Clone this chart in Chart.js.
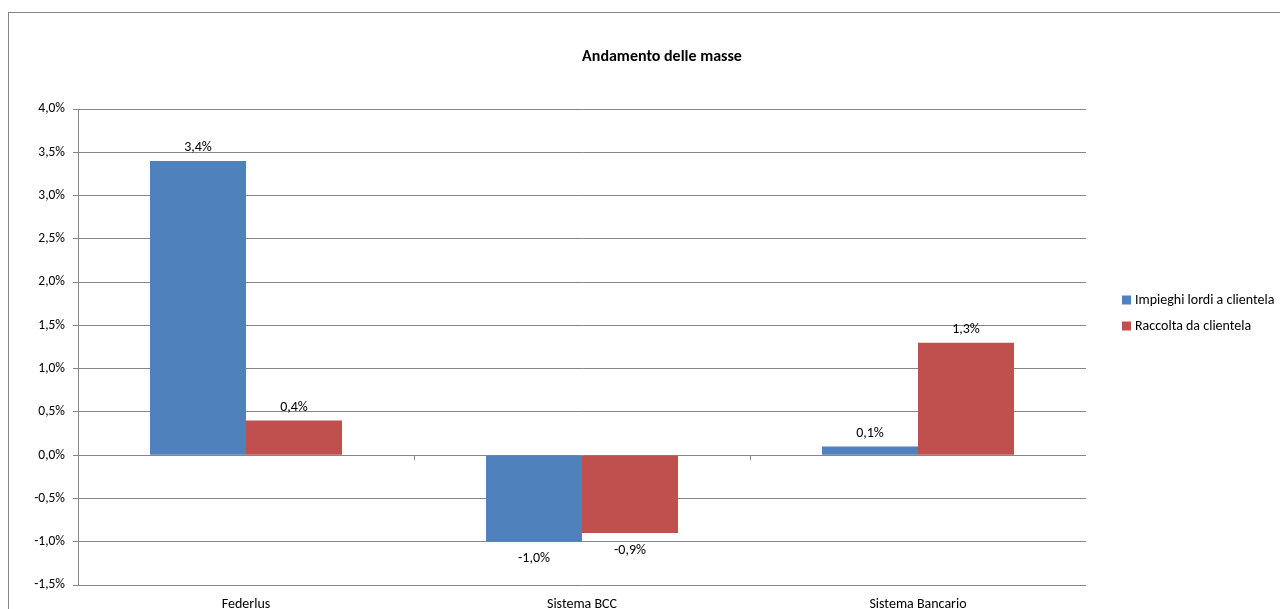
<!DOCTYPE html>
<html>
<head>
<meta charset="utf-8">
<title>Andamento delle masse</title>
<script src="https://cdn.jsdelivr.net/npm/chart.js@4"></script>
<style>
  html, body { margin: 0; padding: 0; background: #fff; overflow: hidden; width: 1280px; height: 609px; }
  #frame { position: absolute; left: 8px; top: 12px; width: 1400px; height: 700px; border: 1px solid #868686; box-sizing: border-box; }
  #wrap { position: absolute; left: 0; top: 0; width: 1324px; height: 630px; }
</style>
</head>
<body>
<div id="frame"></div>
<div id="wrap"><canvas id="masse"></canvas></div>
<script>
// categorie e serie (variazioni percentuali)
var categorie = ['Federlus', 'Sistema BCC', 'Sistema Bancario'];
var impieghi = [3.4, -1.0, 0.1];
var raccolta = [0.4, -0.9, 1.3];
var nomiSerie = ['Impieghi lordi a clientela', 'Raccolta da clientela'];
var coloriSerie = ['#4F81BD', '#C0504D'];
var titolo = 'Andamento delle masse';

var FONT = "Carlito, Calibri, Lato, sans-serif";
Chart.defaults.font.family = FONT;
Chart.defaults.color = '#000';

function perc(v) {
  return v.toFixed(1).replace('.', ',') + '%';
}

// etichette dei valori sopra / sotto le barre
var etichette = {
  id: 'etichette',
  afterDatasetsDraw: function(chart) {
    var ctx = chart.ctx;
    ctx.save();
    ctx.font = '14px ' + FONT;
    ctx.fillStyle = '#000';
    ctx.textAlign = 'center';
    ctx.textBaseline = 'middle';
    chart.data.datasets.forEach(function(ds, i) {
      chart.getDatasetMeta(i).data.forEach(function(bar, j) {
        var v = ds.data[j];
        var y = v >= 0 ? bar.y - 13 : bar.y + 17;
        ctx.fillText(perc(v), bar.x, y);
      });
    });
    ctx.restore();
  }
};

// titolo, legenda a destra e tacche dell'asse categorie sulla linea dello zero
var extra = {
  id: 'extra',
  afterDraw: function(chart) {
    var ctx = chart.ctx;
    var area = chart.chartArea;
    var y0 = chart.scales.y.getPixelForValue(0);
    var n = categorie.length;
    var w = (area.right - area.left) / n;
    ctx.save();
    ctx.strokeStyle = '#868686';
    ctx.lineWidth = 1;
    for (var k = 1; k < n; k++) {
      var x = Math.round(area.left + w * k) + 0.5;
      ctx.beginPath();
      ctx.moveTo(x, y0);
      ctx.lineTo(x, y0 + 5);
      ctx.stroke();
    }

    ctx.fillStyle = '#000';
    ctx.font = 'bold 16px ' + FONT;
    ctx.textAlign = 'center';
    ctx.textBaseline = 'middle';
    ctx.fillText(titolo, 662, 57);

    ctx.font = '14px ' + FONT;
    ctx.textAlign = 'left';
    var ys = [300, 326];
    for (var s = 0; s < nomiSerie.length; s++) {
      ctx.fillStyle = coloriSerie[s];
      ctx.fillRect(1122, ys[s] - 4.5, 9, 9);
      ctx.fillStyle = '#000';
      ctx.fillText(nomiSerie[s], 1135, ys[s]);
    }
    ctx.restore();
  }
};

var ctx = document.getElementById('masse');
var chart = new Chart(ctx, {
  type: 'bar',
  data: {
    labels: categorie,
    datasets: [{
      label: nomiSerie[0],
      backgroundColor: coloriSerie[0],
      data: impieghi
    }, {
      label: nomiSerie[1],
      backgroundColor: coloriSerie[1],
      data: raccolta
    }]
  },
  options: {
    responsive: true,
    maintainAspectRatio: false,
    animation: false,
    categoryPercentage: 0.5714,
    barPercentage: 1,
    layout: { padding: { left: 0, right: 238, top: 109, bottom: 0 } },
    plugins: {
      legend: { display: false },
      tooltip: { enabled: false },
      title: { display: false }
    },
    scales: {
      x: {
        grid: { display: false, drawTicks: false },
        border: { display: false },
        ticks: { font: { size: 14 }, padding: 11, maxRotation: 0 },
        afterFit: function(scale) { scale.height = 45; }
      },
      y: {
        min: -1.5,
        max: 4.0,
        ticks: {
          stepSize: 0.5,
          font: { size: 13.5 },
          padding: 8,
          callback: function(v) { return perc(v); }
        },
        grid: { color: '#868686', tickLength: 5, tickColor: '#868686' },
        border: { color: '#868686' },
        afterFit: function(scale) { scale.width = 78; }
      }
    }
  },
  plugins: [etichette, extra]
});
</script>
</body>
</html>
